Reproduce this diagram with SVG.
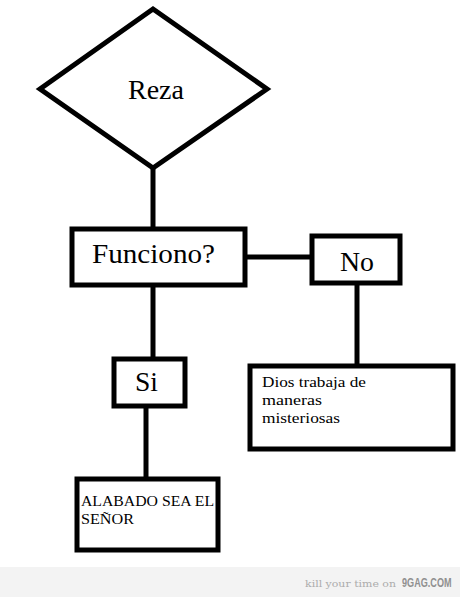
<svg xmlns="http://www.w3.org/2000/svg" width="460" height="597" viewBox="0 0 460 597">
<style>
.shape{fill:#fff;stroke:#000;stroke-width:5}
.conn{stroke:#000;stroke-width:5;fill:none}
.big{font-family:"Liberation Serif","DejaVu Serif",serif;font-size:27px;fill:#000}
.small{font-family:"Liberation Serif","DejaVu Serif",serif;font-size:15.5px;fill:#000}
</style>
<rect x="0" y="0" width="460" height="597" fill="#fff"/>
<g id="connectors">
<line class="conn" x1="153" y1="166" x2="153" y2="230"/>
<line class="conn" x1="245" y1="257" x2="313" y2="257"/>
<line class="conn" x1="357" y1="283" x2="357" y2="366"/>
<line class="conn" x1="153" y1="285" x2="153" y2="359"/>
<line class="conn" x1="146" y1="405" x2="146" y2="479"/>
</g>
<g id="reza">
<polygon class="shape" points="153,9 267,89 153,168 40,89"/>
<text class="big" x="128" y="99" textLength="56" lengthAdjust="spacingAndGlyphs">Reza</text>
</g>
<g id="funciono">
<rect class="shape" x="72" y="229" width="173" height="56"/>
<text class="big" x="92" y="263" textLength="123" lengthAdjust="spacingAndGlyphs">Funciono?</text>
</g>
<g id="no">
<rect class="shape" x="312" y="236" width="88" height="47"/>
<text class="big" x="340" y="271" textLength="34" lengthAdjust="spacingAndGlyphs">No</text>
</g>
<g id="dios">
<rect class="shape" x="250" y="366" width="203" height="83"/>
<text class="small" x="262" y="387" textLength="104" lengthAdjust="spacingAndGlyphs">Dios trabaja de</text>
<text class="small" x="262" y="405" textLength="60" lengthAdjust="spacingAndGlyphs">maneras</text>
<text class="small" x="262" y="423" textLength="78" lengthAdjust="spacingAndGlyphs">misteriosas</text>
</g>
<g id="si">
<rect class="shape" x="114" y="359" width="71" height="47"/>
<text class="big" x="135" y="391" textLength="23" lengthAdjust="spacingAndGlyphs">Si</text>
</g>
<g id="alabado">
<rect class="shape" x="77" y="479" width="141" height="71"/>
<text class="small" x="81" y="506" textLength="133" lengthAdjust="spacingAndGlyphs">ALABADO SEA EL</text>
<text class="small" x="81" y="524" textLength="53" lengthAdjust="spacingAndGlyphs">SEÑOR</text>
</g>
<g id="footer">
<rect x="0" y="567" width="460" height="30" fill="#f3f3f3"/>
<text x="305" y="587" font-family="'DejaVu Serif',serif" font-size="10" fill="#acacac" textLength="91" lengthAdjust="spacingAndGlyphs">kill your time on</text>
<text transform="translate(402,587) scale(0.7,1)" x="0" y="0" font-family="'Liberation Sans',sans-serif" font-weight="bold" font-size="13" fill="#909090">9GAG.COM</text>
</g>
</svg>
